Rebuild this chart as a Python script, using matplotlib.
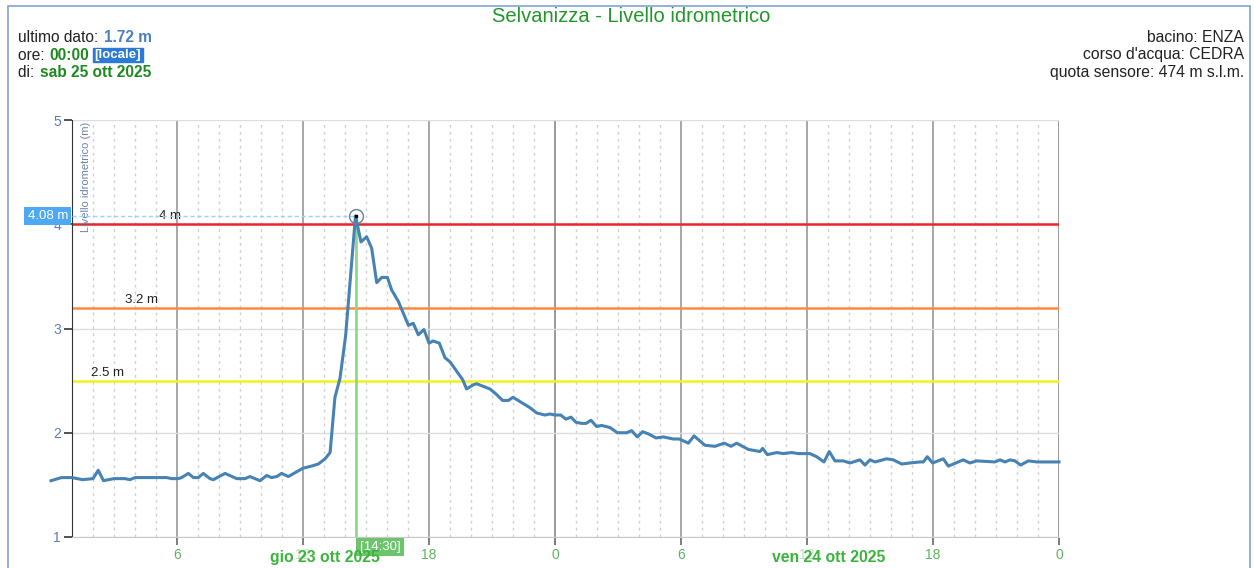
import matplotlib
matplotlib.use('Agg')
import matplotlib.pyplot as plt
from matplotlib.patches import Rectangle
from matplotlib.ticker import FixedLocator

# ore dalle 00:00 di gio 23 ott 2025, livello in m
ore = [0.0, 0.5, 1.0, 1.5, 2.0, 2.25, 2.5, 3.0, 3.52, 3.76, 4.0, 5.5, 5.75, 6.06, 6.22,
       6.54, 6.78, 7.02, 7.25, 7.57, 7.73, 8.29, 8.84, 9.24, 9.48, 9.95, 10.27, 10.5,
       10.75, 10.98, 11.3, 12.0, 12.4, 12.73, 13.05, 13.29,
       13.52, 13.76, 14.03, 14.5, 14.76, 15.03, 15.27, 15.51, 15.75, 16.02, 16.22, 16.54,
       17.02, 17.25, 17.49, 17.76, 18.0, 18.2, 18.49, 18.76, 19.0, 19.32, 19.6, 19.79,
       20.11, 20.27, 20.9, 21.2, 21.5, 21.78, 22.0, 22.4, 22.81, 23.13, 23.52, 23.76, 24.0,
       24.27, 24.52, 24.76, 25.0, 25.27, 25.48, 25.71, 25.98, 26.22, 26.62, 26.97, 27.41,
       27.65, 27.92, 28.17, 28.44, 28.81, 29.16, 29.63, 29.92, 30.35, 30.62, 31.14, 31.62,
       32.06, 32.38, 32.65, 33.21, 33.76, 33.89, 34.11, 34.56, 34.87, 35.27, 35.59, 36.14,
       36.46, 36.81, 37.06, 37.33, 37.73, 38.05, 38.52, 38.76, 39.0, 39.24, 39.79, 40.11,
       40.51, 40.9, 41.38, 41.54, 41.73, 41.98, 42.49, 42.73, 43.44, 43.76, 44.08, 44.94,
       45.19, 45.43, 45.67, 45.9, 46.17, 46.54, 46.94, 47.56, 48.0]
livello = [1.54, 1.57, 1.57, 1.55, 1.56, 1.64, 1.54, 1.56, 1.56, 1.55, 1.57, 1.57, 1.56, 1.56, 1.57,
           1.61, 1.57, 1.57, 1.61, 1.56, 1.55, 1.61, 1.56, 1.56, 1.58, 1.54, 1.59, 1.57,
           1.58, 1.61, 1.58, 1.66, 1.68, 1.70, 1.75, 1.81,
           2.34, 2.52, 2.93, 4.08, 3.83, 3.88, 3.77, 3.44, 3.49, 3.49, 3.37, 3.26,
           3.03, 3.05, 2.94, 2.99, 2.86, 2.88, 2.86, 2.72, 2.68, 2.59, 2.51, 2.42,
           2.46, 2.47, 2.42, 2.37, 2.31, 2.31, 2.34, 2.29, 2.24, 2.19, 2.17, 2.18, 2.17,
           2.17, 2.13, 2.15, 2.10, 2.09, 2.09, 2.12, 2.06, 2.07, 2.05, 2.00, 2.00,
           2.02, 1.96, 2.01, 1.99, 1.95, 1.96, 1.94, 1.94, 1.90, 1.97, 1.88, 1.87,
           1.90, 1.87, 1.90, 1.84, 1.82, 1.85, 1.79, 1.81, 1.80, 1.81, 1.80, 1.80,
           1.77, 1.72, 1.82, 1.73, 1.73, 1.71, 1.74, 1.69, 1.74, 1.72, 1.75, 1.74,
           1.70, 1.71, 1.72, 1.72, 1.77, 1.71, 1.75, 1.68, 1.74, 1.71, 1.73, 1.72,
           1.74, 1.72, 1.74, 1.73, 1.69, 1.73, 1.72, 1.72, 1.72]

soglie = [4.0, 3.2, 2.5]
soglie_colori = ['#e8262b', '#ff8a3d', '#f2f21a']
soglie_testi = ['4 m', '3.2 m', '2.5 m']
soglie_xtesto = [5.67, 4.29, 2.67]

ore_tick = [6, 12, 18, 24, 30, 36, 42, 48]
etichette_tick = ['6', '12', '18', '0', '6', '12', '18', '0']
giorni = ['gio 23 ott 2025', 'ven 24 ott 2025']
giorni_ore = [13.05, 37.05]

picco_ora, picco_val = 14.5, 4.08

plt.rcParams['font.family'] = ['Liberation Sans', 'DejaVu Sans']

W, H = 1254, 568
fig = plt.figure(figsize=(W / 100, H / 100), dpi=100)

# cornice
fig.patches.append(Rectangle((8 / W, -0.05), 1242 / W, 1.05 - 6 / H, transform=fig.transFigure,
                             fill=False, edgecolor='#7ea3d6', lw=1.2))

ax = fig.add_axes([72 / W, 1 - 537 / H, 987 / W, 417 / H])
ax.set_xlim(1, 48)
ax.set_ylim(1, 5)

for s in ['top', 'right']:
    ax.spines[s].set_visible(False)
ax.spines['left'].set_color('#333333')
ax.spines['bottom'].set_color('#c8c8c8')

ax.set_yticks([1, 2, 3, 4, 5])
ax.yaxis.grid(True, color='#dddddd', lw=1)
ax.tick_params(axis='y', length=6, width=1.2, color='#333333', labelcolor='#5a7db3',
               labelsize=10, pad=2)

ax.set_xticks(ore_tick)
ax.set_xticklabels(etichette_tick)
ax.xaxis.set_minor_locator(FixedLocator([h for h in range(2, 48) if h % 6]))
ax.xaxis.grid(True, which='major', color='#a0a0a0', lw=1.3)
ax.xaxis.grid(True, which='minor', color='#d0d0d0', lw=1, ls=(0, (2, 3)))
ax.tick_params(axis='x', which='major', length=6, width=1.2, color='#666666',
               labelcolor='#5fb35f', labelsize=10, pad=2)
ax.tick_params(axis='x', which='minor', length=0)
for lab, txt in zip(ax.get_xticklabels(), etichette_tick):
    if txt == '12':
        lab.set_color('#c0e0c0')
for h in (24, 48):
    ax.axvline(h, color='#777777', lw=1.4, zorder=1)

for v, c, t, xt in zip(soglie, soglie_colori, soglie_testi, soglie_xtesto):
    ax.axhline(v, color=c, lw=1.8, zorder=2)
    ax.text(xt, v + 0.02, t, ha='center', va='bottom', fontsize=9.5, color='#222222')

ax.text(0.014, 0.995, 'Livello idrometrico (m)', rotation=90, transform=ax.transAxes,
        ha='center', va='top', fontsize=8, color='#6d85a8')

# crosshair sul picco
ax.plot([1, picco_ora], [picco_val, picco_val], ls=(0, (3, 2)), color='#9fd0f5', lw=1, zorder=3)
ax.plot([picco_ora, picco_ora], [1, picco_val], color='#8fd68f', lw=2, zorder=3)

ax.plot(ore, livello, color='#4682b4', lw=2.2, zorder=4, clip_on=False,
        solid_joinstyle='round')

ax.plot(picco_ora, picco_val, 'o', mfc='none', mec='#6a7f99', ms=10, mew=1, zorder=5)
ax.plot(picco_ora, picco_val, 's', color='black', ms=1.8, zorder=6)

ax.text(-0.004, picco_val, '4.08 m', transform=ax.get_yaxis_transform(), ha='right',
        va='center', color='white', fontsize=9.5,
        bbox=dict(boxstyle='square,pad=0.25', fc='#4ea9f2', ec='none'), zorder=7)
ax.text(picco_ora + 0.2, -0.01, '[14:30]', transform=ax.get_xaxis_transform(), ha='left',
        va='top', color='white', fontsize=9.5,
        bbox=dict(boxstyle='square,pad=0.25', fc='#6cc46c', ec='none'), zorder=7)

for g, h in zip(giorni, giorni_ore):
    ax.text(h, -0.048, g, transform=ax.get_xaxis_transform(), ha='center', va='center',
            color='#3ab53a', fontsize=11.3, weight='bold', zorder=8)

# titolo
fig.text(631 / W, 1 - 17 / H, 'Selvanizza - Livello idrometrico', ha='center', va='center',
         fontsize=14.5, color='#22962a')

# testi informativi
renderer = fig.canvas.get_renderer()


def riga(x, y, parti):
    for testo, kw in parti:
        kw = dict(kw)
        kw.setdefault('fontsize', 11.2)
        gap = kw.pop('gap', 1)
        x += gap
        t = fig.text(x / W, 1 - y / H, testo, ha='left', va='center', **kw)
        x += t.get_window_extent(renderer).width


riga(17, 38, [('ultimo dato: ', dict(color='#222222')),
              ('1.72 m', dict(color='#4a7fc1', weight='bold'))])
riga(17, 55, [('ore: ', dict(color='#222222')),
              ('00:00', dict(color='#1e8a1e', weight='bold')),
              ('[locale]', dict(color='white', weight='bold', fontsize=9.5, gap=5,
                                bbox=dict(boxstyle='square,pad=0.1', fc='#2b7bd6', ec='#2b7bd6')))])
riga(17, 72, [('di: ', dict(color='#222222')),
              ('sab 25 ott 2025', dict(color='#1e8a1e', weight='bold'))])

for y, t in zip([38, 55, 72], ['bacino: ENZA', "corso d'acqua: CEDRA", 'quota sensore: 474 m s.l.m.']):
    fig.text(1244 / W, 1 - y / H, t, ha='right', va='center', fontsize=11.3, color='#222222')

fig.savefig('out.png', dpi=100)
